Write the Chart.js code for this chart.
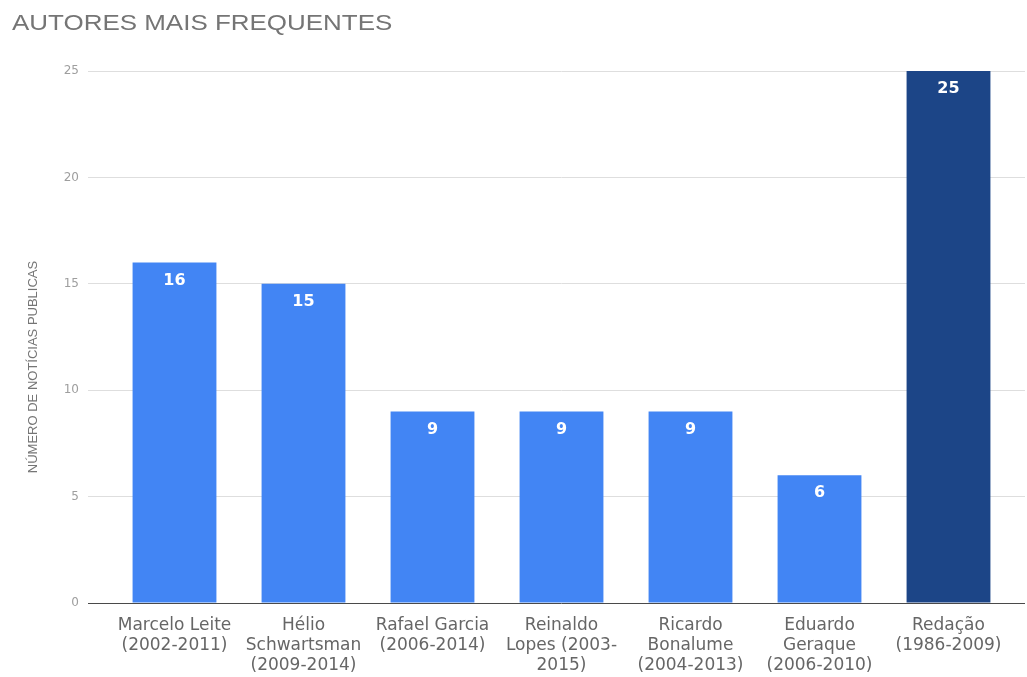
<!DOCTYPE html>
<html>
<head>
<meta charset="utf-8">
<script src="https://cdn.jsdelivr.net/npm/chart.js@4.4.1/dist/chart.umd.min.js"></script>
<style>
  html, body { margin: 0; padding: 0; background: #fff; }
  #wrap { width: 1027px; height: 677px; }
</style>
</head>
<body>
<div id="wrap"><canvas id="autoresChart" width="1027" height="677"></canvas></div>
<script>
const autores = [
    ['Marcelo Leite', '(2002-2011)'],
    ['Hélio', 'Schwartsman', '(2009-2014)'],
    ['Rafael Garcia', '(2006-2014)'],
    ['Reinaldo', 'Lopes (2003-', '2015)'],
    ['Ricardo', 'Bonalume', '(2004-2013)'],
    ['Eduardo', 'Geraque', '(2006-2010)'],
    ['Redação', '(1986-2009)']
];
const noticias = [16, 15, 9, 9, 9, 6, 25];
const yTicks = [0, 5, 10, 15, 20, 25];

const tituloGrafico = 'AUTORES MAIS FREQUENTES';
const tituloEixoY = 'NÚMERO DE NOTÍCIAS PUBLICAS';

const corBarra = '#4285f4';
const corDestaque = '#1c4587';
const corGrade = '#dedede';
const corZero = '#4a4a4a';

// last bar (Redação) stands out in dark blue
const coresBarras = noticias.map((v, i) => i === noticias.length - 1 ? corDestaque : corBarra);

function gradeCor(ctx) {
    return ctx.tick && ctx.tick.value === 0 ? corZero : corGrade;
}

// chart title and rotated y axis title
const titulos = {
    id: 'titulos',
    afterDraw(chart) {
        const c = chart.ctx;
        c.save();
        c.fillStyle = '#757575';
        c.textBaseline = 'alphabetic';
        c.textAlign = 'left';
        c.font = '22px "Liberation Sans", Arial, sans-serif';
        c.translate(12, 30);
        c.scale(1.18, 1);
        c.fillText(tituloGrafico, 0, 0);
        c.restore();

        c.save();
        c.fillStyle = '#757575';
        c.font = '13px "Liberation Sans", Arial, sans-serif';
        c.textAlign = 'center';
        c.textBaseline = 'middle';
        c.translate(33, 367);
        c.rotate(-Math.PI / 2);
        c.fillText(tituloEixoY, 0, 0);
        c.restore();
    }
};

// white value inside the top of each bar
const valoresBarras = {
    id: 'valoresBarras',
    afterDatasetsDraw(chart) {
        const c = chart.ctx;
        const meta = chart.getDatasetMeta(0);
        c.save();
        c.fillStyle = '#ffffff';
        c.font = 'bold 16px "DejaVu Sans", sans-serif';
        c.textAlign = 'center';
        c.textBaseline = 'middle';
        meta.data.forEach((bar, i) => {
            c.fillText(String(noticias[i]), bar.x, bar.y + 18);
        });
        c.restore();
    }
};

const ctx = document.getElementById('autoresChart').getContext('2d');
const autoresChart = new Chart(ctx, {
    type: 'bar',
    data: {
        labels: autores,
        datasets: [{
            data: noticias,
            backgroundColor: coresBarras,
            borderWidth: 0,
            barPercentage: 0.65,
            categoryPercentage: 1.0
        }]
    },
    options: {
        responsive: false,
        animation: false,
        events: [],
        layout: {
            padding: { top: 71, left: 0, right: 2, bottom: 0 }
        },
        plugins: {
            legend: { display: false },
            title: { display: false },
            tooltip: { enabled: false }
        },
        scales: {
            x: {
                grid: { display: false },
                border: { display: false },
                ticks: {
                    padding: 5,
                    maxRotation: 0,
                    autoSkip: false,
                    color: '#666666',
                    font: { family: '"DejaVu Sans", sans-serif', size: 17, lineHeight: 1.16 }
                },
                afterFit(scale) { scale.height = 74; }
            },
            y: {
                min: 0,
                max: 25,
                afterBuildTicks(scale) {
                    scale.ticks = yTicks.map(v => ({ value: v }));
                },
                grid: {
                    color: gradeCor,
                    tickColor: gradeCor,
                    tickLength: 22
                },
                border: { display: false },
                ticks: {
                    padding: 9,
                    color: '#9e9e9e',
                    font: { family: '"DejaVu Sans", sans-serif', size: 12 }
                },
                afterFit(scale) { scale.width = 110; }
            },
            y2: {
                position: 'right',
                min: 0,
                max: 25,
                afterBuildTicks(scale) {
                    scale.ticks = yTicks.map(v => ({ value: v }));
                },
                grid: {
                    drawOnChartArea: false,
                    color: gradeCor,
                    tickColor: gradeCor,
                    tickLength: 12
                },
                border: { display: false },
                ticks: { display: false },
                afterFit(scale) { scale.width = 12; }
            }
        }
    },
    plugins: [titulos, valoresBarras]
});
</script>
</body>
</html>
